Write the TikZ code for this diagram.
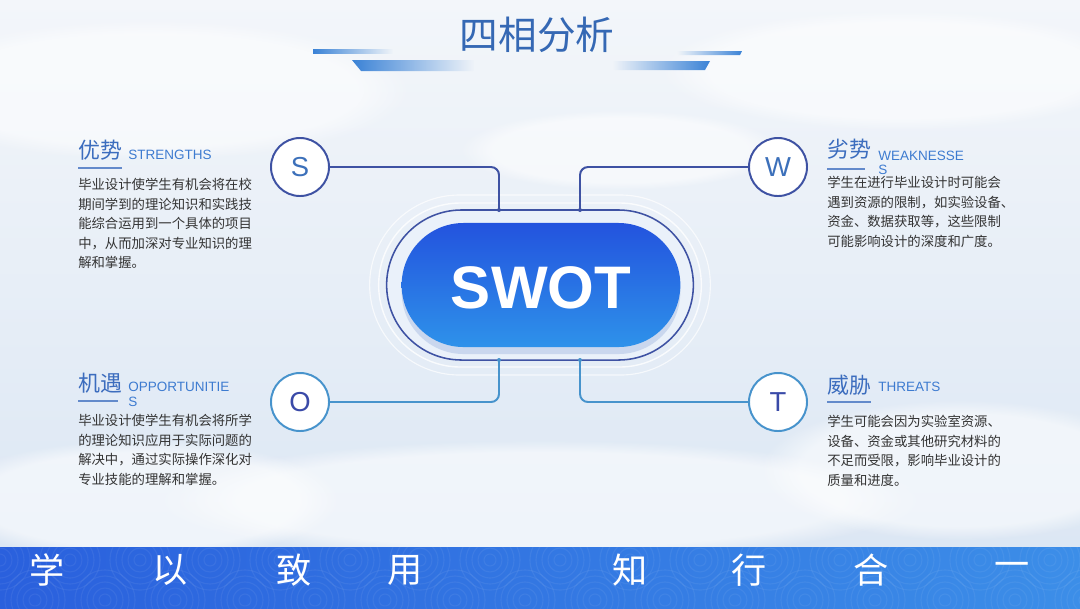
\documentclass[tikz,border=0pt]{standalone}
\usepackage{fontspec}
\newfontfamily\cjkfont{Noto Sans CJK SC}
\newfontfamily\latfont{Liberation Sans}
\usepackage{tikz}
\usetikzlibrary{positioning, calc, shapes.misc, fadings}
\usepackage{xcolor}
\definecolor{bgtop}{HTML}{F3F6FA}
\definecolor{bgbot}{HTML}{DCE7F4}
\definecolor{titleblue}{HTML}{3568B4}
\definecolor{barblue}{HTML}{3A82D6}
\definecolor{headblue}{HTML}{3C6DBE}
\definecolor{tagblue}{HTML}{3D7BD0}
\definecolor{bodygray}{HTML}{333333}
\definecolor{topring}{HTML}{3E52A3}
\definecolor{botring}{HTML}{4793CC}
\definecolor{sblue}{HTML}{3C70BA}
\definecolor{oblue}{HTML}{3A4AA8}
\definecolor{ringfill}{HTML}{EAF1FA}
\definecolor{shadowblue}{HTML}{8FA9D8}
\definecolor{pilltop}{HTML}{2353DE}
\definecolor{pillbot}{HTML}{2E92EA}
\definecolor{banleft}{HTML}{2A60DD}
\definecolor{banright}{HTML}{3C8EE8}
\tikzfading[name=fade right, left color=transparent!0, right color=transparent!100]
\tikzfading[name=fade left, left color=transparent!100, right color=transparent!0]

\begin{document}
\begin{tikzpicture}[x=0.025cm, y=-0.025cm,
  letter/.style={circle, fill=white, minimum size=1.45cm, inner sep=0pt,
    line width=1.4pt, font=\latfont\fontsize{19.5}{20}\selectfont},
  head/.style={font=\cjkfont\fontsize{15.6}{18}\selectfont, text=headblue,
    anchor=base west, inner sep=0pt},
  tag/.style={font=\latfont\fontsize{9.6}{10.3}\selectfont, text=tagblue,
    align=left, inner sep=0pt},
  body/.style={font=\cjkfont\fontsize{9.5}{13.9}\selectfont, text=bodygray,
    align=left, anchor=north west, inner sep=0pt},
  rule/.style={headblue!80, line width=1.1pt},
  link/.style={line width=1.4pt, rounded corners=0.2cm},
  dot/.style={circle, fill, inner sep=0pt, minimum size=0.1cm},
  bar/.style={fill=barblue},
  motto/.style={font=\cjkfont\fontsize{25}{26}\selectfont, text=white, inner sep=0pt}
]
  \useasboundingbox (0,0) rectangle (1080,608);
  % Background
  \fill[top color=bgtop, bottom color=bgbot] (0,0) rectangle (1080,547);
  \foreach \cx/\cy/\rx/\ry in {150/90/260/70, 900/70/240/60, 540/500/380/60,
      960/470/200/70, 140/500/200/60, 620/150/160/40} {
    \fill[white, opacity=0.55, path fading=circle with fuzzy edge 20 percent]
      (\cx,\cy) ellipse [x radius=\rx, y radius=\ry];
  }
  % Title
  \node[font=\cjkfont\fontsize{27.5}{28}\selectfont, text=titleblue] (title)
    at (537,35) {四相分析};
  \fill[bar, path fading=fade right] (313,49) -- (393,49) -- (393,54) -- (313,54) -- cycle;
  \fill[bar, path fading=fade right] (352,60) -- (474,60) -- (474,71) -- (361,71) -- cycle;
  \fill[bar, path fading=fade left] (677,51) -- (742,51) -- (740,55) -- (677,55) -- cycle;
  \fill[bar, path fading=fade left] (613,61) -- (710,61) -- (705,70) -- (613,70) -- cycle;
  % Centre
  \node[rounded rectangle, draw=white, line width=0.8pt, opacity=0.7,
    minimum width=8.75cm, minimum height=4.5cm] (halo) at (540,285) {};
  \node[rounded rectangle, draw=white, line width=1pt, opacity=0.8,
    minimum width=8.3cm, minimum height=4.1cm] (halo2) at (540,285) {};
  \node[rounded rectangle, fill=ringfill, draw=topring, line width=1.1pt,
    minimum width=7.9cm, minimum height=3.75cm] (ring) at (540,285) {};
  \node[rounded rectangle, fill=shadowblue, opacity=0.35, minimum width=7.2cm,
    minimum height=3.1cm] (shadow) at (541,292) {};
  \node[rounded rectangle, top color=pilltop, bottom color=pillbot,
    minimum width=7.2cm, minimum height=3.1cm] (pill) at (541,285) {};
  \node[text=white, font=\latfont\bfseries\fontsize{42.7}{44}\selectfont]
    (swot) at (541,288) {SWOT};
  % Letters
  \node[letter, draw=topring, text=sblue] (s) at (300,167) {S};
  \node[letter, draw=topring, text=sblue] (w) at (778,167) {W};
  \node[letter, draw=botring, text=oblue] (o) at (300,402) {O};
  \node[letter, draw=botring, text=oblue] (t) at (778,402) {T};
  \node[dot, topring] (ds) at (499,210) {};
  \node[dot, topring] (dw) at (580,210) {};
  \node[dot, botring] (do) at (499,360) {};
  \node[dot, botring] (dt) at (580,360) {};
  \draw[link, topring] (s.east) -| (ds.center);
  \draw[link, topring] (w.west) -| (dw.center);
  \draw[link, botring] (o.east) -| (do.center);
  \draw[link, botring] (t.west) -| (dt.center);
  % Strengths
  \node[head] (sh) at (78,158) {优势};
  \node[tag, anchor=base west] (st) at (128,159) {STRENGTHS};
  \draw[rule] ($(sh.base west)+(0,10)$) -- ($(sh.base east)+(0,10)$);
  \node[body] (sb) at (78,178) {毕业设计使学生有机会将在校\\期间学到的理论知识和实践技\\能综合运用到一个具体的项目\\中，从而加深对专业知识的理\\解和掌握。};
  % Weaknesses
  \node[head] (wh) at (827,157) {劣势};
  \node[tag, anchor=north west] (wt) at (878,150.5) {WEAKNESSE\\S};
  \draw[rule] ($(wh.base west)+(0,12)$) -- ($(wh.base east)+(-6,12)$);
  \node[body] (wb) at (827,176) {学生在进行毕业设计时可能会\\遇到资源的限制，如实验设备、\\资金、数据获取等，这些限制\\可能影响设计的深度和广度。};
  % Opportunities
  \node[head] (oh) at (78,391) {机遇};
  \node[tag, anchor=north west] (ot) at (128,382) {OPPORTUNITIE\\S};
  \draw[rule] ($(oh.base west)+(0,10)$) -- ($(oh.base east)+(-4,10)$);
  \node[body] (ob) at (78,414) {毕业设计使学生有机会将所学\\的理论知识应用于实际问题的\\解决中，通过实际操作深化对\\专业技能的理解和掌握。};
  % Threats
  \node[head] (th) at (827,393) {威胁};
  \node[tag, anchor=base west] (tt) at (878,391.5) {THREATS};
  \draw[rule] ($(th.base west)+(0,9)$) -- ($(th.base east)+(0,9)$);
  \node[body] (tb) at (827,415) {学生可能会因为实验室资源、\\设备、资金或其他研究材料的\\不足而受限，影响毕业设计的\\质量和进度。};
  % Banner
  \fill[left color=banleft, right color=banright] (0,547) rectangle (1080,608);
  \begin{scope}
    \clip (0,547) rectangle (1080,608);
    \foreach \cx in {0,70,...,1120} {
      \foreach \r in {6,12,...,30} {
        \draw[white, opacity=0.06, line width=0.8pt] (\cx,560) circle[radius=\r];
        \draw[white, opacity=0.06, line width=0.8pt] (\cx+35,600) circle[radius=\r];
      }
    }
  \end{scope}
  \foreach \ch/\xx in {学/47, 以/170, 致/294, 用/405, 知/630, 行/749, 合/871, 一/1012}
    \node[motto] (m\xx) at (\xx,570) {\ch};
\end{tikzpicture}
\end{document}
